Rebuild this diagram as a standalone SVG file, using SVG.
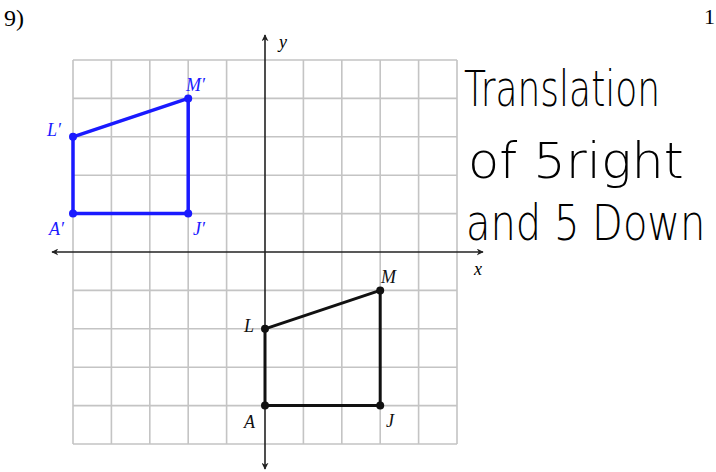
<svg xmlns="http://www.w3.org/2000/svg" width="716" height="472" viewBox="0 0 716 472">
<style>
.grid{stroke:#c4c4c4;stroke-width:1.6;fill:none}
.axis{stroke:#222;stroke-width:1.6;fill:none}
.lbl{font-family:"Liberation Serif",serif;font-style:italic;font-size:18px}
.blue{stroke:#1a1aff;stroke-width:3.5;fill:none;stroke-linejoin:round}
.black{stroke:#111;stroke-width:3;fill:none;stroke-linejoin:round}
.hw{font-family:"DejaVu Sans",sans-serif;font-weight:300;fill:#000;font-size:50px}
</style>
<defs>
<marker id="ah" viewBox="0 0 10 10" refX="9" refY="5" markerWidth="7" markerHeight="7" orient="auto-start-reverse" markerUnits="userSpaceOnUse">
<path d="M0,0 L10,5 L0,10 L3,5 Z" fill="#222"/>
</marker>
</defs>
<rect width="716" height="472" fill="#fff"/>
<text x="4" y="26" font-family="Liberation Serif,serif" font-size="24">9)</text>
<text x="704" y="24" font-family="Liberation Serif,serif" font-size="22">1</text>
<g id="grid" class="grid">
<path d="M73,60V444M111.4,60V444M149.8,60V444M188.2,60V444M226.6,60V444M303.4,60V444M341.8,60V444M380.2,60V444M418.6,60V444M457,60V444"/>
<path d="M73,60H457M73,98.4H457M73,136.8H457M73,175.2H457M73,213.6H457M73,290.4H457M73,328.8H457M73,367.2H457M73,405.6H457M73,444H457"/>
</g>
<g id="axes">
<line class="axis" x1="52" y1="252" x2="483" y2="252" marker-start="url(#ah)" marker-end="url(#ah)"/>
<line class="axis" x1="265" y1="35" x2="265" y2="469" marker-start="url(#ah)" marker-end="url(#ah)"/>
<text class="lbl" x="279" y="48" font-size="17">y</text>
<text class="lbl" x="474" y="275" font-size="17">x</text>
</g>
<g id="image" fill="#1a1aff">
<polygon class="blue" points="73,136.8 188.2,98.4 188.2,213.6 73,213.6"/>
<circle cx="73" cy="136.8" r="4"/><circle cx="188.2" cy="98.4" r="4"/><circle cx="188.2" cy="213.6" r="4"/><circle cx="73" cy="213.6" r="4"/>
<text class="lbl" x="47" y="136">L′</text>
<text class="lbl" x="186" y="91">M′</text>
<text class="lbl" x="49" y="235">A′</text>
<text class="lbl" x="193" y="235">J′</text>
</g>
<g id="preimage" fill="#111">
<polygon class="black" points="265,328.8 380.2,290.4 380.2,405.6 265,405.6"/>
<circle cx="265" cy="328.8" r="4"/><circle cx="380.2" cy="290.4" r="4"/><circle cx="380.2" cy="405.6" r="4"/><circle cx="265" cy="405.6" r="4"/>
<text class="lbl" x="244" y="332">L</text>
<text class="lbl" x="381" y="283">M</text>
<text class="lbl" x="244" y="428">A</text>
<text class="lbl" x="386" y="427">J</text>
</g>
<g id="note">
<text class="hw" transform="translate(464,106) scale(0.72,1)">Translation</text>
<text class="hw" transform="translate(468,178) scale(1.02,1)">of 5right</text>
<text class="hw" transform="translate(466,240) scale(0.8,1)">and 5 Down</text>
</g>
</svg>
